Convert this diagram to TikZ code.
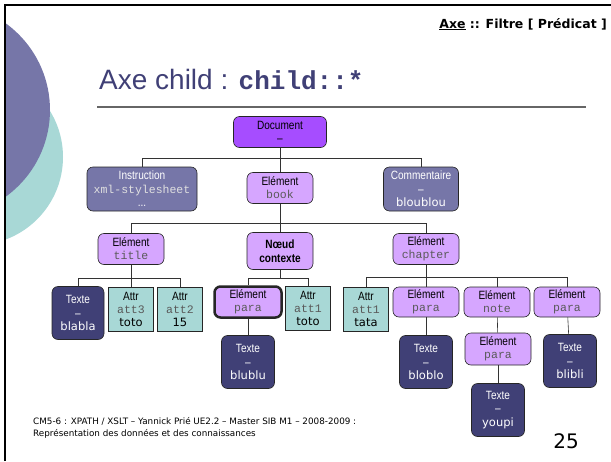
\documentclass[tikz,border=0pt]{standalone}
\usepackage{fontspec}
\setmainfont{Liberation Sans}
\setmonofont{Liberation Mono}
\newfontfamily\narrowsf[FakeStretch=0.84]{Liberation Sans}
\newfontfamily\verdsf{DejaVu Sans}
\definecolor{docviolet}{RGB}{166,77,255}
\definecolor{elviolet}{RGB}{214,166,255}
\definecolor{pigray}{RGB}{118,118,168}
\definecolor{txtnavy}{RGB}{64,64,118}
\definecolor{attrteal}{RGB}{168,216,214}
\definecolor{valgray}{RGB}{90,90,90}
\definecolor{titlenavy}{RGB}{64,64,118}
\newcommand{\val}[1]{{\verdsf\fontsize{11.5}{13}\selectfont #1}}
\newcommand{\tval}[1]{{\ttfamily\fontsize{11.5}{13}\selectfont\color{valgray}#1}}

\begin{document}
\begin{tikzpicture}[x=1pt,y=-1pt,
    box/.style={draw=black!85,line width=0.6pt,rounded corners=6pt,align=center,
      inner sep=0pt,font=\narrowsf\fontsize{12}{13}\selectfont},
    docbox/.style={box,fill=docviolet,minimum width=93pt,minimum height=31pt},
    elbox/.style={box,fill=elviolet,minimum width=66pt,minimum height=31pt},
    pibox/.style={box,fill=pigray,text=white,minimum height=44pt,
      font=\narrowsf\fontsize{12}{13.5}\selectfont},
    txtbox/.style={box,fill=txtnavy,text=white,minimum width=53pt,minimum height=53pt,
      font=\narrowsf\fontsize{12}{13.5}\selectfont},
    attrbox/.style={box,rounded corners=0pt,fill=attrteal,minimum width=45pt,minimum height=44pt},
    link/.style={draw=black!80,line width=0.6pt}]
    \useasboundingbox (0,0) rectangle (611,461);
    \begin{scope}
      \clip (6,6) rectangle (611,461);
      \fill[attrteal] (-25,157) circle (88pt);
      \fill[pigray] (-57,110) circle (107pt);
    \end{scope}
    \draw[line width=2pt] (5,461) -- (5,5) -- (611,5);
    \node[anchor=base east,inner sep=0pt,font=\verdsf\bfseries\fontsize{12.5}{14}\selectfont] (head) at (607,28)
      {\underline{Axe} :: Filtre [ Prédicat ]};
    \node[anchor=base west,inner sep=0pt,text=titlenavy,font=\fontsize{28}{32}\selectfont] (title) at (99,89)
      {Axe child : {\ttfamily\bfseries\fontsize{26}{30}\selectfont child::*}};
    \draw[black!60,line width=1.2pt] (97,107) -- (586,107);

    \node[docbox] (doc) at (280,132) {Document\\–};
    \node[pibox,minimum width=110pt] (instr) at (142,189)
      {Instruction\\{\ttfamily\fontsize{11.5}{13}\selectfont\color{white!88!black}xml-stylesheet}\\...};
    \node[elbox] (book) at (280,188) {Elément\\\tval{book}};
    \node[pibox,minimum width=75pt] (comm) at (421,189) {Commentaire\\–\\\val{bloublou}};

    \node[elbox] (tit) at (131,249) {Elément\\\tval{title}};
    \node[elbox,minimum height=37pt,font=\narrowsf\bfseries\fontsize{12}{14}\selectfont] (ctx) at (280,251)
      {Nœud\\contexte};
    \node[elbox] (chap) at (426,249) {Elément\\\tval{chapter}};

    \node[txtbox,minimum width=52pt] (blabla) at (78,313) {Texte\\–\\\val{blabla}};
    \node[attrbox] (att3) at (131,309) {Attr\\\tval{att3}\\\val{toto}};
    \node[attrbox] (att2) at (180,309) {Attr\\\tval{att2}\\\val{15}};
    \node[elbox,line width=2.5pt,minimum width=67pt,minimum height=31pt] (para1) at (248,302)
      {Elément\\\tval{para}};
    \node[attrbox] (att1) at (308,308) {Attr\\\tval{att1}\\\val{toto}};
    \node[attrbox] (tata) at (366,309) {Attr\\\tval{att1}\\\val{tata}};
    \node[elbox,minimum height=30pt] (para2) at (426,302) {Elément\\\tval{para}};
    \node[elbox,minimum height=30pt] (note) at (497,302) {Elément\\\tval{note}};
    \node[elbox,minimum height=30pt] (para3) at (567,302) {Elément\\\tval{para}};

    \node[txtbox] (blublu) at (248,362) {Texte\\–\\\val{blublu}};
    \node[txtbox] (bloblo) at (426,362) {Texte\\–\\\val{bloblo}};
    \node[elbox,minimum height=32pt] (para4) at (498,349) {Elément\\\tval{para}};
    \node[txtbox] (blibli) at (570,361) {Texte\\–\\\val{blibli}};
    \node[txtbox] (youpi) at (498,410) {Texte\\–\\\val{youpi}};

    \coordinate (b1) at (280,158);
    \coordinate (b2) at (280,223);
    \coordinate (b3) at (131,278);
    \coordinate (b4) at (280,278);
    \coordinate (b5) at (426,277);
    \draw[link] (doc.south) -- (b1) -| (instr.north);
    \draw[link] (b1) -| (comm.north);
    \draw[link] (b1) -- (book.north);
    \draw[link] (book.south) -- (b2) -| (tit.north);
    \draw[link] (b2) -| (chap.north);
    \draw[link] (b2) -- (ctx.north);
    \draw[link] (tit.south) -- (b3) -| (blabla.north);
    \draw[link] (b3) -- (att3.north);
    \draw[link] (b3) -| (att2.north);
    \draw[link] (ctx.south) -- (b4) -| (para1.north);
    \draw[link] (b4) -| (att1.north);
    \draw[link] (chap.south) -- (b5) -| (tata.north);
    \draw[link] (b5) -- (para2.north);
    \draw[link] (b5) -| (note.north);
    \draw[link] (b5) -| (para3.north);
    \draw[link] (para1) -- (blublu);
    \draw[link] (para2) -- (bloblo);
    \draw[link] (note) -- (para4);
    \draw[link] (para4) -- (youpi);
    \draw[link] (para3) -- (blibli);

    \node[anchor=base west,align=left,inner sep=0pt,font=\verdsf\fontsize{8.8}{11.5}\selectfont] (foot) at (33,436)
      {CM5-6 : XPATH / XSLT – Yannick Prié UE2.2 – Master SIB M1 – 2008-2009 :\\
       Représentation des données et des connaissances};
    \node[anchor=base east,inner sep=0pt,font=\verdsf\fontsize{20}{22}\selectfont] (page) at (579,448) {25};
\end{tikzpicture}
\end{document}
